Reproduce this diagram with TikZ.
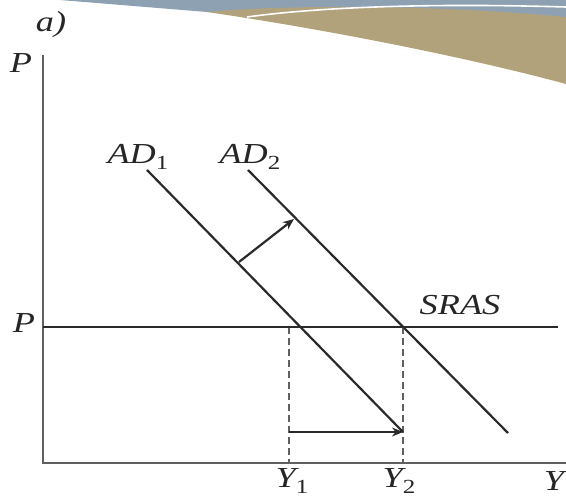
\documentclass[tikz,border=0pt]{standalone}
\usepackage{fontspec}
\setmainfont{Liberation Serif}
\usetikzlibrary{arrows.meta}
\definecolor{slideblue}{HTML}{8EA1B3}
\definecolor{slidetan}{HTML}{B1A27B}
\definecolor{ink}{HTML}{2A2A2A}
\definecolor{axisgray}{HTML}{606060}
\newcommand{\lbl}[2]{\textit{#1}\raisebox{-6pt}{\fontsize{20}{20}\selectfont\upshape #2}}
\tikzset{
  axisline/.style={draw=axisgray, line width=2.8pt},
  curve/.style={draw=ink, line width=2.2pt},
  guide/.style={draw=axisgray, line width=2.6pt, dash pattern=on 7pt off 4pt},
  shift arrow/.style={draw=ink, line width=2.2pt, -{Stealth[length=11pt,width=9pt]}},
  txt/.style={inner sep=0pt, font=\fontsize{29}{29}\selectfont\itshape, text=black!85, xscale=1.25}
}
\begin{document}
\begin{tikzpicture}[x=1pt,y=-1pt]
\useasboundingbox (0,0) rectangle (566,500);
% slide decoration
\fill[slideblue] (60,0) -- (207,12) -- (566,20) -- (566,0) -- cycle;
\fill[slidetan] (207,12) .. controls (280,5) and (430,4) .. (566,17)
  -- (566,84) .. controls (470,58) and (330,30) .. (207,12) -- cycle;
\draw[white, line width=1.6pt] (247,17) .. controls (320,7) and (430,3) .. (566,7);

% coordinates
\coordinate (O) at (43,463);
\coordinate (Ptop) at (43,55);
\coordinate (Xend) at (566,463);
\coordinate (S1) at (43,327);
\coordinate (S2) at (558,327);
\coordinate (A1s) at (147,170);
\coordinate (A1e) at (403,432);
\coordinate (A2s) at (248,170);
\coordinate (A2e) at (508,433);
\coordinate (Y1top) at (289,327);
\coordinate (Y1bot) at (289,463);
\coordinate (Y2top) at (403,327);
\coordinate (Y2bot) at (403,463);
\coordinate (Sh1) at (239,262);
\coordinate (Sh2) at (294,219);
\coordinate (H1) at (289,432);
\coordinate (H2) at (403,432);

% dashed guides
\draw[guide] (Y1top) -- (Y1bot);
\draw[guide] (Y2top) -- (Y2bot);

% axes
\draw[axisline] (Ptop) -- (O) -- (Xend);

% curves
\draw[curve] (S1) -- (S2);
\draw[curve] (A1s) -- (A1e);
\draw[curve] (A2s) -- (A2e);

% arrows
\draw[shift arrow] (Sh1) -- (Sh2);
\draw[shift arrow] (H1) -- (H2);

% labels
\node[txt] (la) at (51,25) {a)};
\node[txt] (lP1) at (21,63) {P};
\node[txt] (lP2) at (24,323) {P};
\node[txt] (lAD1) at (138,157) {\lbl{AD}{1}};
\node[txt] (lAD2) at (250,157) {\lbl{AD}{2}};
\node[txt] (lSRAS) at (460,305) {SRAS};
\node[txt] (lY1) at (292,481) {\lbl{Y}{1}};
\node[txt] (lY2) at (399,481) {\lbl{Y}{2}};
\node[txt] (lY) at (554,481) {Y};
\end{tikzpicture}
\end{document}
